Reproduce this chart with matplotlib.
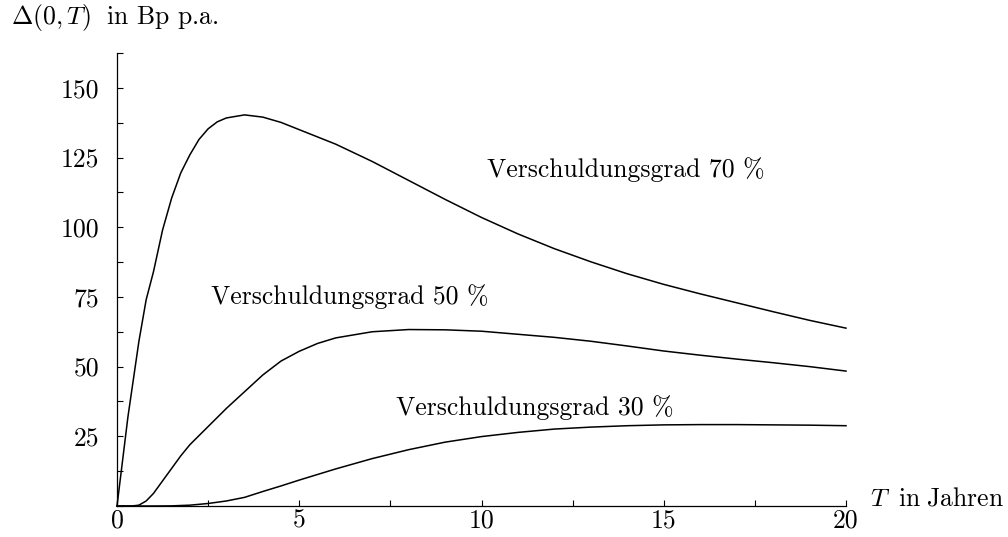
import numpy as np
import matplotlib
matplotlib.use("Agg")
import matplotlib.pyplot as plt
from matplotlib.ticker import MultipleLocator

plt.rcParams["font.family"] = "cmr10"
plt.rcParams["mathtext.fontset"] = "cm"
plt.rcParams["axes.unicode_minus"] = False

# Verschuldungsgrad 70 %
t70 = [0, 0.3, 0.6, 0.8, 1.0, 1.25, 1.5, 1.75, 2.0, 2.25, 2.5, 2.75, 3.0, 3.5,
       4.0, 4.5, 5.0, 6.0, 7.0, 8.0, 9.0, 10.0, 11.0, 12.0, 13.0, 14.0, 15.0,
       16.0, 17.0, 18.0, 19.0, 20.0]
d70 = [0, 32, 59, 74, 84, 99, 110.5, 119.5, 126, 131.5, 135.3, 137.8, 139.2,
       140.3, 139.5, 137.6, 135, 129.8, 123.6, 116.8, 110, 103.5, 97.6, 92.3,
       87.6, 83.3, 79.5, 76.1, 72.9, 69.7, 66.6, 63.8]

# Verschuldungsgrad 50 %
t50 = [0, 0.4, 0.6, 0.8, 1.0, 1.25, 1.5, 1.75, 2.0, 2.5, 3.0, 3.5, 4.0, 4.5,
       5.0, 5.5, 6.0, 7.0, 8.0, 9.0, 10.0, 11.0, 12.0, 13.0, 14.0, 15.0, 16.0,
       17.0, 18.0, 19.0, 20.0]
d50 = [0, 0, 0.3, 1.8, 4.5, 9, 13.5, 18, 22, 28.5, 35, 41, 47, 52, 55.5, 58.3,
       60.3, 62.5, 63.3, 63.2, 62.7, 61.6, 60.5, 59.1, 57.4, 55.6, 54.1, 52.7,
       51.4, 50, 48.4]

# Verschuldungsgrad 30 %
t30 = [0, 1.0, 1.5, 2.0, 2.5, 3.0, 3.5, 4.0, 4.5, 5.0, 6.0, 7.0, 8.0, 9.0,
       10.0, 11.0, 12.0, 13.0, 14.0, 15.0, 16.0, 17.0, 18.0, 19.0, 20.0]
d30 = [0, 0, 0.05, 0.3, 0.9, 1.8, 3.1, 5.2, 7.2, 9.3, 13.3, 17.0, 20.2, 22.9,
       24.9, 26.4, 27.6, 28.3, 28.8, 29.1, 29.2, 29.2, 29.1, 29.0, 28.8]

labels = ["Verschuldungsgrad 70 %", "Verschuldungsgrad 50 %",
          "Verschuldungsgrad 30 %"]

fs = 18.5

fig = plt.figure(figsize=(10.08, 5.37), dpi=100)
ax = fig.add_axes([117 / 1008, 1 - 506 / 537, (846 - 117) / 1008, (506 - 53) / 537])

for t, d in [(t70, d70), (t50, d50), (t30, d30)]:
    ax.plot(t, d, color="black", lw=1.1, clip_on=False)

ax.set_xlim(0, 20)
ax.set_ylim(0, 162.5)
ax.spines["top"].set_visible(False)
ax.spines["right"].set_visible(False)
ax.spines["left"].set_linewidth(0.9)
ax.spines["bottom"].set_linewidth(0.9)

ax.set_xticks([0, 5, 10, 15, 20])
ax.set_yticks([25, 50, 75, 100, 125, 150])
ax.xaxis.set_minor_locator(MultipleLocator(2.5))
ax.yaxis.set_minor_locator(MultipleLocator(12.5))
ax.tick_params(which="both", direction="in", length=4, width=0.8, labelsize=fs)
ax.tick_params(axis="x", which="both", pad=2)
ax.tick_params(axis="y", which="both", pad=13)

ax.text(10.15, 120.6, labels[0], fontsize=fs, va="center")
ax.text(2.58, 75.0, labels[1], fontsize=fs, va="center")
ax.text(7.65, 35.2, labels[2], fontsize=fs, va="center")

ax.text(20.66, 0, r"$T\ \;\mathrm{in}\;\mathrm{Jahren}$", fontsize=fs,
        va="baseline", ha="left", clip_on=False)
fig.text(11 / 1008, 1 - 24 / 537, r"$\Delta(0,T)\;$ in Bp p.a.", fontsize=fs,
         va="baseline", ha="left")

fig.savefig("out.png", dpi=100)
